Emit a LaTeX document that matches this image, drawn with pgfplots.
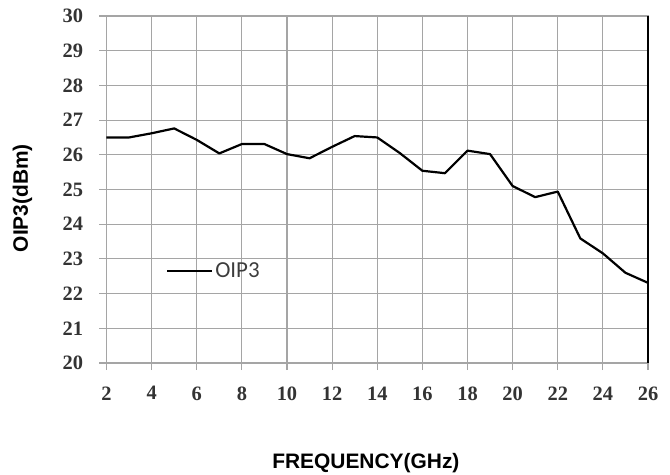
\documentclass[border=0pt]{standalone}
\usepackage{pgfplots}
\pgfplotsset{compat=1.18}
\usepackage{fontspec}
\setmainfont{Liberation Serif}
\newfontfamily\tickfont{Liberation Serif}
\newfontfamily\labfont{Liberation Sans}
\newfontfamily\legfont{Carlito}
\definecolor{gridgray}{RGB}{165,165,165}
\definecolor{leggray}{RGB}{60,60,60}
\begin{document}
\begin{tikzpicture}
\path[use as bounding box] (-106.5bp,-112bp) rectangle (563.5bp,363bp);
\begin{axis}[
  scale only axis,
  width=541.5bp, height=347bp,
  xmin=2, xmax=26, ymin=20, ymax=30,
  xtick={2,4,...,26}, ytick={20,21,...,30},
  xtick pos=bottom, ytick pos=left,
  tick align=outside,
  major tick length=7bp,
  tick style={gridgray, line width=1.1bp},
  grid=major,
  major grid style={gridgray, line width=1.1bp},
  axis line style={gridgray, line width=1.1bp},
  clip mode=individual,
  /pgf/number format/assume math mode=true,
  ticklabel style={font=\tickfont\bfseries\fontsize{20.5}{20.5}\selectfont, text=black!80},
  xticklabel style={yshift=-13bp},
  yticklabel style={xshift=-13bp},
  legend style={draw=none, fill=none, at={(axis cs:4.65,22.66)}, anchor=west, inner sep=0pt,
    font=\legfont\fontsize{23}{23}\selectfont, text=leggray},
  legend cell align=left,
  legend image code/.code={\draw[black, line width=1.8bp] (0bp,0bp) -- (45bp,0bp);},
]
\addplot[black, line width=2.2bp, line join=round] coordinates {
(2,26.50) (3,26.50) (4,26.62) (5,26.76) (6,26.43) (7,26.04) (8,26.31) (9,26.31)
(10,26.02) (11,25.90) (12,26.23) (13,26.54) (14,26.50) (15,26.05) (16,25.54)
(17,25.47) (18,26.12) (19,26.02) (20,25.10) (21,24.78) (22,24.94) (23,23.59)
(24,23.16) (25,22.60) (26,22.31)
};
\addlegendentry{OIP3}
\draw[black, line width=1.3bp] (rel axis cs:1,0) -- (rel axis cs:1,1);
\node[font=\labfont\bfseries\fontsize{21}{21}\selectfont, anchor=center]
  at ([yshift=-100bp]rel axis cs:0.479,0) {FREQUENCY(GHz)};
\node[font=\labfont\bfseries\fontsize{21}{21}\selectfont, anchor=center, rotate=90]
  at ([xshift=-84bp]rel axis cs:0,0.475) {OIP3(dBm)};
\end{axis}
\end{tikzpicture}
\end{document}
